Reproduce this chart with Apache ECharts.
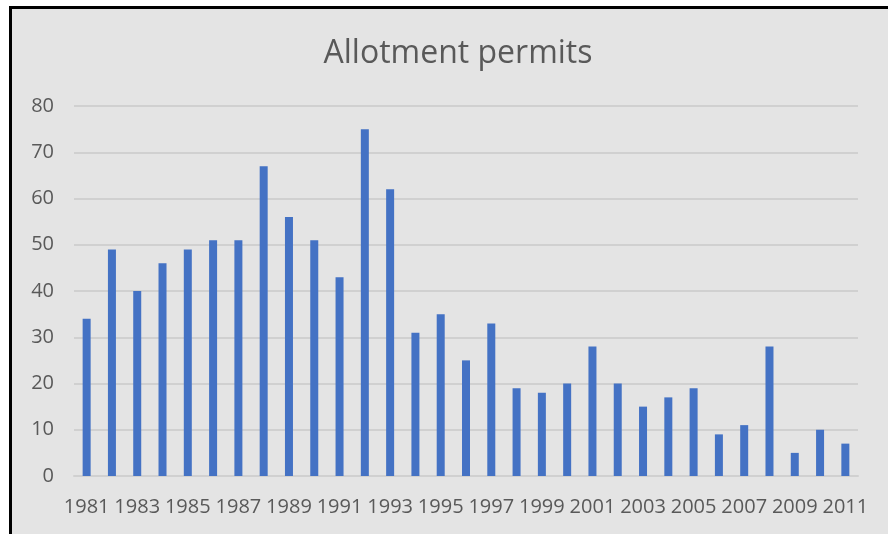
<!doctype html>
<html>
<head>
<meta charset="utf-8">
<script src="https://cdn.jsdelivr.net/npm/echarts@6/dist/echarts.min.js"></script>
<style>
  html, body { margin: 0; padding: 0; background: #fff; overflow: hidden; }
  #frame { position: absolute; left: 9px; top: 6px; width: 900px; height: 560px;
           border-left: 3px solid #000; border-top: 3px solid #000; background: #e4e4e4; }
  #main { position: absolute; left: 0; top: 0; width: 888px; height: 534px; }
</style>
</head>
<body>
<div id="frame"></div>
<div id="main"></div>
<script>
var years = [1981, 1982, 1983, 1984, 1985, 1986, 1987, 1988, 1989, 1990,
             1991, 1992, 1993, 1994, 1995, 1996, 1997, 1998, 1999, 2000,
             2001, 2002, 2003, 2004, 2005, 2006, 2007, 2008, 2009, 2010, 2011];
var permits = [34, 49, 40, 46, 49, 51, 51, 67, 56, 51,
               43, 75, 62, 31, 35, 25, 33, 19, 18, 20,
               28, 20, 15, 17, 19, 9, 11, 28, 5, 10, 7];

var chart = echarts.init(document.getElementById('main'));
var font = '"Open Sans", "DejaVu Sans", sans-serif';
chart.setOption({
  backgroundColor: 'transparent',
  animation: false,
  title: {
    text: 'Allotment permits',
    left: 453, top: 33, textAlign: 'center',
    textStyle: { fontFamily: font, fontSize: 32, fontWeight: 'normal', color: '#595959' }
  },
  grid: { left: 74, right: 30, top: 106, bottom: 58 },
  xAxis: {
    type: 'category',
    data: years.map(String),
    axisLine: { lineStyle: { color: '#d0d0d0', width: 2 } },
    axisTick: { show: false },
    axisLabel: { interval: 1, color: '#595959', fontSize: 20, fontFamily: font, margin: 21 }
  },
  yAxis: {
    type: 'value', min: 0, max: 80, interval: 10,
    axisLine: { show: false },
    axisTick: { show: false },
    splitLine: { lineStyle: { color: '#d0d0d0', width: 2 } },
    axisLabel: { color: '#595959', fontSize: 20, fontFamily: font, margin: 20 }
  },
  series: [{
    type: 'bar',
    data: permits,
    barWidth: 8,
    itemStyle: { color: '#4472c4' }
  }]
});
</script>
</body>
</html>
